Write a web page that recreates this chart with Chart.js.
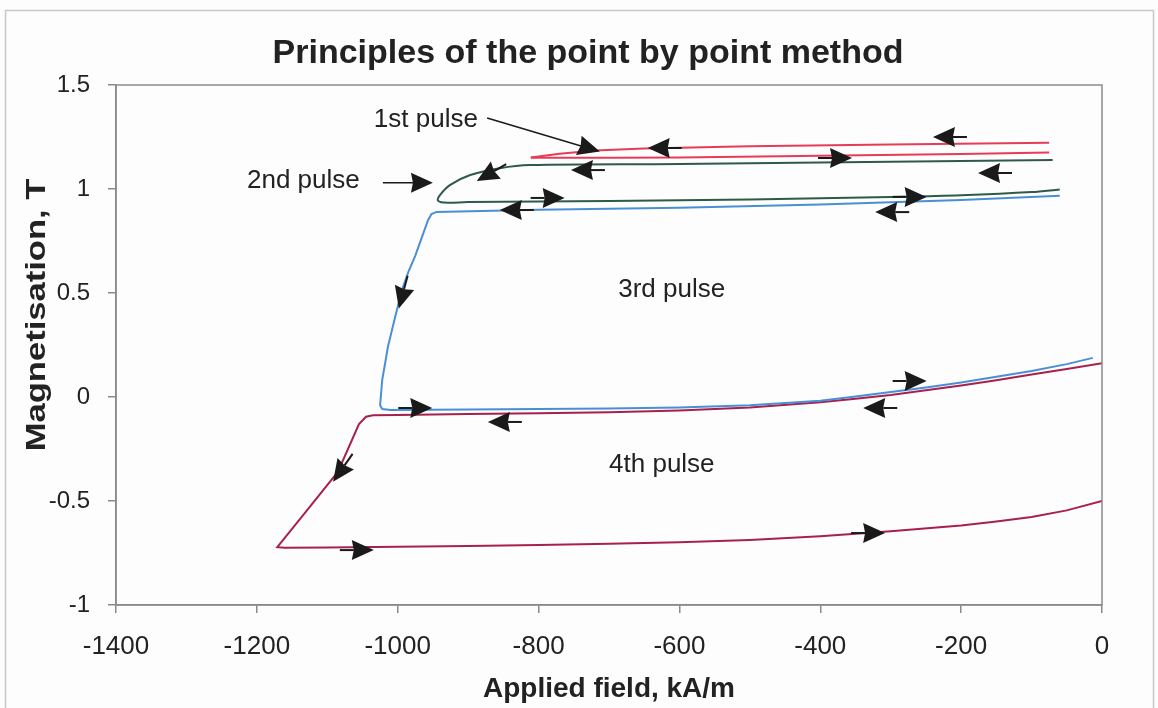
<!DOCTYPE html>
<html>
<head>
<meta charset="utf-8">
<script src="https://cdn.jsdelivr.net/npm/chart.js"></script>
<style>
  body { margin: 0; background: #ffffff; }
</style>
</head>
<body>
<canvas id="bhChart" width="1158" height="708"></canvas>
<script>
// Tick values
var xTicks = [-1400, -1200, -1000, -800, -600, -400, -200, 0];
var yTicks = [-1, -0.5, 0, 0.5, 1, 1.5];

// 1st pulse (red minor loop), out and back
var pulse1OutX = [-811, -700, -600, -400, -200, -75];
var pulse1OutY = [1.150, 1.150, 1.152, 1.160, 1.168, 1.175];
var pulse1BackX = [-75, -300, -500, -650, -720, -770, -811];
var pulse1BackY = [1.222, 1.214, 1.205, 1.195, 1.185, 1.170, 1.152];

// 2nd pulse (dark green)
var pulse2X = [-70, -200, -400, -600, -812, -855, -897, -926, -940, -943, -935, -900, -700, -500, -300, -200, -100, -60];
var pulse2Y = [1.140, 1.135, 1.128, 1.120, 1.115, 1.100, 1.067, 1.019, 0.971, 0.945, 0.935, 0.937, 0.942, 0.950, 0.962, 0.970, 0.985, 0.998];

// 3rd pulse (blue)
var pulse3X = [-60, -200, -400, -600, -800, -945, -952, -957, -966, -975, -985, -994, -1004, -1014, -1018, -1022, -1025, -1022, -1010,
    -900, -800, -700, -600, -500, -400, -350, -300, -250, -200, -150, -100, -50, -13];
var pulse3Y = [0.968, 0.947, 0.925, 0.910, 0.900, 0.890, 0.880, 0.850, 0.765, 0.680, 0.600, 0.514, 0.380, 0.240, 0.160, 0.082, -0.040, -0.058, -0.062,
    -0.060, -0.058, -0.055, -0.050, -0.040, -0.018, 0.002, 0.024, 0.046, 0.070, 0.097, 0.125, 0.158, 0.188];

// 4th pulse (crimson)
var pulse4X = [0, -50, -100, -150, -200, -250, -300, -350, -400, -500, -600, -700, -800, -900, -1000, -1035, -1045, -1055, -1085, -1130, -1171, -1160,
    -1100, -1000, -900, -800, -700, -600, -500, -400, -300, -200, -150, -100, -50, 0];
var pulse4Y = [0.162, 0.135, 0.108, 0.080, 0.055, 0.032, 0.010, -0.008, -0.025, -0.050, -0.065, -0.073, -0.078, -0.082, -0.086, -0.088, -0.095, -0.130, -0.360, -0.550, -0.722, -0.725,
    -0.724, -0.720, -0.716, -0.711, -0.705, -0.698, -0.687, -0.669, -0.646, -0.618, -0.599, -0.577, -0.545, -0.500];

// direction arrows on the curves (data position, angle in degrees)
var arrowX = [-628, -223, -372, -737, -159, -873, -780, -838, -266, -305, -994, -968, -855, -266, -322, -1082, -1051, -325];
var arrowY = [1.197, 1.25, 1.149, 1.091, 1.077, 1.067, 0.957, 0.899, 0.962, 0.889, 0.481, -0.053, -0.12, 0.077, -0.053, -0.36, -0.736, -0.654];
var arrowAngle = [180, 180, 0, 180, 180, 150, 0, 180, 0, 180, 105, 0, 180, 0, 180, 125, 0, 0];

// pulse labels
var labelText = ['1st pulse', '2nd pulse', '3rd pulse', '4th pulse'];
var labelX = [-960, -1134, -611, -625];
var labelY = [1.332, 1.040, 0.514, -0.327];

// leader lines from labels
var leaderFromX = [-873, -1021];
var leaderFromY = [1.341, 1.030];
var leaderToX = [-713, -950];
var leaderToY = [1.180, 1.030];

var FONT = '"Liberation Sans", Arial, sans-serif';

function pts(xs, ys) {
    var out = [];
    for (var i = 0; i < xs.length; i++) out.push({ x: xs[i], y: ys[i] });
    return out;
}

function drawHead(ctx, x, y, ang, tail) {
    ctx.save();
    ctx.translate(x, y);
    ctx.rotate(ang * Math.PI / 180);
    ctx.fillStyle = '#1a1a1a';
    ctx.strokeStyle = '#1a1a1a';
    ctx.beginPath();
    ctx.moveTo(12, 0);
    ctx.lineTo(-10, -10);
    ctx.lineTo(-8, 0);
    ctx.lineTo(-10, 10);
    ctx.closePath();
    ctx.fill();
    if (tail) {
        ctx.lineWidth = 2;
        ctx.beginPath();
        ctx.moveTo(-8, 0);
        ctx.lineTo(-22, 0);
        ctx.stroke();
    }
    ctx.restore();
}

var decor = {
    id: 'decor',
    beforeDraw: function (chart) {
        var ctx = chart.ctx;
        ctx.save();
        ctx.fillStyle = '#fdfdfd';
        ctx.fillRect(0, 0, chart.width, chart.height);
        ctx.strokeStyle = '#c8c8c8';
        ctx.lineWidth = 1.5;
        ctx.strokeRect(5.5, 10.5, 1148, 700);
        ctx.restore();
    },
    afterDatasetsDraw: function (chart) {
        var ctx = chart.ctx;
        var a = chart.chartArea;
        var xs = chart.scales.x, ys = chart.scales.y;
        ctx.save();
        ctx.strokeStyle = '#8a8a8a';
        ctx.lineWidth = 1.5;
        ctx.strokeRect(a.left, a.top, a.right - a.left, a.bottom - a.top);

        for (var i = 0; i < arrowX.length; i++) {
            drawHead(ctx, xs.getPixelForValue(arrowX[i]), ys.getPixelForValue(arrowY[i]), arrowAngle[i], true);
        }

        // leader lines
        for (var j = 0; j < leaderFromX.length; j++) {
            var x0 = xs.getPixelForValue(leaderFromX[j]), y0 = ys.getPixelForValue(leaderFromY[j]);
            var x1 = xs.getPixelForValue(leaderToX[j]), y1 = ys.getPixelForValue(leaderToY[j]);
            var ang = Math.atan2(y1 - y0, x1 - x0);
            ctx.strokeStyle = '#1a1a1a';
            ctx.lineWidth = 1.5;
            ctx.beginPath();
            ctx.moveTo(x0, y0);
            ctx.lineTo(x1 - 10 * Math.cos(ang), y1 - 10 * Math.sin(ang));
            ctx.stroke();
            drawHead(ctx, x1 - 12 * Math.cos(ang), y1 - 12 * Math.sin(ang), ang * 180 / Math.PI, false);
        }

        ctx.fillStyle = '#222';
        ctx.font = '26px ' + FONT;
        ctx.textAlign = 'center';
        ctx.textBaseline = 'middle';
        for (var k = 0; k < labelText.length; k++) {
            ctx.fillText(labelText[k], xs.getPixelForValue(labelX[k]), ys.getPixelForValue(labelY[k]));
        }

        // chart title
        ctx.font = 'bold 34px ' + FONT;
        ctx.fillText('Principles of the point by point method', 588, 54);

        // y axis title
        ctx.font = 'bold 27px ' + FONT;
        ctx.translate(38, 315);
        ctx.rotate(-Math.PI / 2);
        ctx.scale(1.28, 1);
        ctx.fillText('Magnetisation, T', 0, 0);
        ctx.restore();
    }
};

var ctx = document.getElementById('bhChart').getContext('2d');
var bhChart = new Chart(ctx, {
    type: 'scatter',
    data: {
        datasets: [
            { data: pts(pulse1OutX, pulse1OutY), borderColor: '#e63c58' },
            { data: pts(pulse1BackX, pulse1BackY), borderColor: '#e63c58' },
            { data: pts(pulse2X, pulse2Y), borderColor: '#2f5a48', tension: 0.35 },
            { data: pts(pulse3X, pulse3Y), borderColor: '#4a8fd4' },
            { data: pts(pulse4X, pulse4Y), borderColor: '#a8204e' }
        ]
    },
    options: {
        responsive: false,
        animation: false,
        showLine: true,
        elements: {
            point: { radius: 0, hoverRadius: 0 },
            line: { borderWidth: 2, tension: 0, fill: false }
        },
        layout: { padding: { left: 0, right: 56, top: 85, bottom: 2 } },
        plugins: {
            legend: { display: false },
            tooltip: { enabled: false },
            title: { display: false }
        },
        scales: {
            x: {
                type: 'linear',
                min: -1400,
                max: 0,
                afterBuildTicks: function (s) { s.ticks = xTicks.map(function (v) { return { value: v }; }); },
                afterFit: function (s) { s.height = 101; },
                ticks: {
                    color: '#222',
                    padding: 18,
                    font: { family: FONT, size: 26 },
                    callback: function (v) { return String(v); }
                },
                grid: { drawOnChartArea: false, tickLength: 8, color: '#8a8a8a', lineWidth: 1.5 },
                border: { color: '#8a8a8a', width: 1.5 },
                title: {
                    display: true,
                    text: 'Applied field, kA/m',
                    color: '#222',
                    font: { family: FONT, size: 28, weight: 'bold' },
                    padding: { top: 0, bottom: 0 }
                }
            },
            y: {
                type: 'linear',
                min: -1,
                max: 1.5,
                afterBuildTicks: function (s) { s.ticks = yTicks.map(function (v) { return { value: v }; }); },
                afterFit: function (s) { s.width = 116; },
                ticks: {
                    color: '#222',
                    padding: 18,
                    font: { family: FONT, size: 24 },
                    callback: function (v) { return String(v); }
                },
                grid: { drawOnChartArea: false, tickLength: 8, color: '#8a8a8a', lineWidth: 1.5 },
                border: { color: '#8a8a8a', width: 1.5 }
            }
        }
    },
    plugins: [decor]
});
</script>
</body>
</html>
